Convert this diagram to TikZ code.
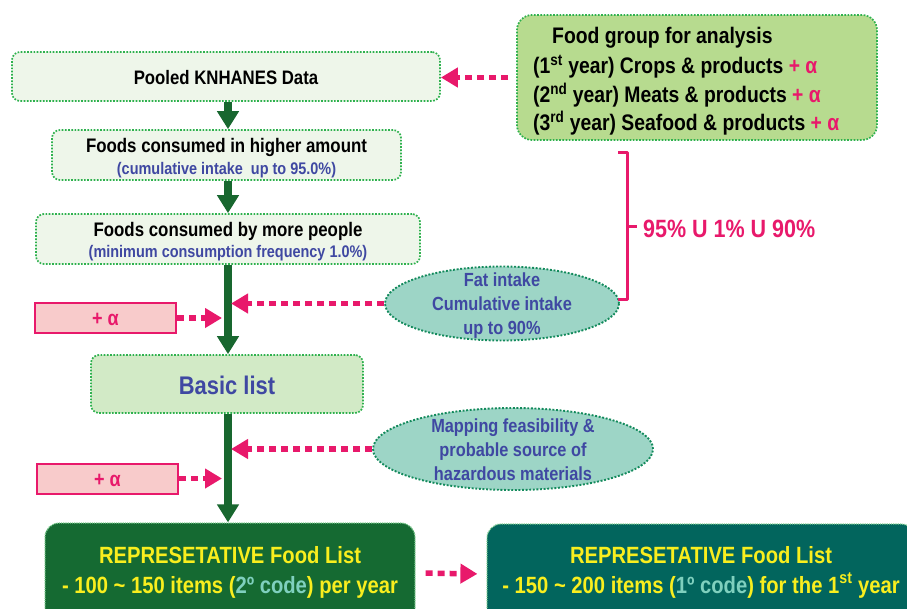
\documentclass[tikz,border=0pt]{standalone}
\usepackage{fontspec}
\setmainfont{Liberation Sans}[FakeStretch=0.86]
\usetikzlibrary{arrows.meta,shapes.geometric}

\definecolor{flowgreen}{HTML}{18672F}
\definecolor{dotgreen}{HTML}{2EB14E}
\definecolor{palebox}{HTML}{EEF6EA}
\definecolor{basicfill}{HTML}{D2EAC6}
\definecolor{groupfill}{HTML}{B7DB8F}
\definecolor{ovalfill}{HTML}{9DD5C6}
\definecolor{ovalline}{HTML}{138A5C}
\definecolor{hotpink}{HTML}{E8196B}
\definecolor{pinkfill}{HTML}{F8CBCB}
\definecolor{inkblue}{HTML}{3F48A2}
\definecolor{listgreen}{HTML}{156A32}
\definecolor{listteal}{HTML}{02655D}
\definecolor{listyellow}{HTML}{F9EE1E}
\definecolor{codeteal}{HTML}{7FD0BE}

\newcommand\setfs[1]{\fontsize{#1}{#1}\selectfont}

\begin{document}
\begin{tikzpicture}[x=1pt,y=-1pt,
  dotline/.style={draw=dotgreen, line width=1.7pt, dash pattern=on 1.7pt off 1.5pt},
  lbox/.style={dotline, fill=palebox, rounded corners=8pt, inner sep=0pt},
  txt/.style={inner sep=0pt, anchor=base},
  oval/.style={ellipse, draw=ovalline, line width=1.9pt, dash pattern=on 1.9pt off 1.7pt, fill=ovalfill, inner sep=0pt},
  flow/.style={draw=flowgreen, line width=7.5pt, -{Triangle[length=18pt,width=21pt]}},
  feed/.style={draw=hotpink, line width=5.5pt, dash pattern=on 7pt off 5pt, -{Triangle[length=17pt,width=19pt]}},
  plusbox/.style={draw=hotpink, line width=2pt, fill=pinkfill, minimum width=141pt, minimum height=30pt,
    inner sep=0pt, text height=15pt, text depth=0pt, text=hotpink, font=\bfseries\setfs{21}},
  listbox/.style={draw=dotgreen!60, line width=1.2pt, dash pattern=on 1.2pt off 1pt, rounded corners=14pt, inner sep=0pt},
]
\useasboundingbox (0,0) rectangle (907,608);
\clip (0,0) rectangle (907,608);

% spine of the flow and the points where side inputs meet it
\coordinate (spine) at (228,0);
\coordinate (tipL) at (222,0);
\coordinate (tipR) at (231,0);

% left column
\node[lbox, minimum width=428pt, minimum height=49pt] (pool) at (226,76.5) {};
\node[txt, font=\bfseries\setfs{19.5}] (poolt) at (226,84) {Pooled KNHANES Data};

\node[lbox, minimum width=349pt, minimum height=50pt] (fc1) at (226.5,155) {};
\node[txt, font=\bfseries\setfs{19.6}] (fc1a) at (226.5,152.5) {Foods consumed in higher amount};
\node[txt, font=\bfseries\setfs{16.8}, text=inkblue] (fc1b) at (226.5,174) {(cumulative intake\ \ up to 95.0\%)};

\node[lbox, minimum width=384pt, minimum height=50pt] (fc2) at (228,239) {};
\node[txt, font=\bfseries\setfs{19.6}] (fc2a) at (228,236.5) {Foods consumed by more people};
\node[txt, font=\bfseries\setfs{16.8}, text=inkblue] (fc2b) at (228,257.5) {(minimum consumption frequency 1.0\%)};

\node[lbox, fill=basicfill, minimum width=272pt, minimum height=58pt] (basic) at (227,384) {};
\node[txt, font=\bfseries\setfs{25.5}, text=inkblue] (basict) at (227,394.5) {Basic list};

\node[plusbox] (pa1) at (105.5,318) {+ α};
\node[plusbox] (pa2) at (107.5,478.5) {+ α};

% food groups
\node[lbox, fill=groupfill, rounded corners=15pt, minimum width=360pt, minimum height=125pt] (fg) at (697,77.5) {};
\node[txt, anchor=base west, font=\bfseries\setfs{22.5}] (fg0) at (552,43.5) {Food group for analysis};
\node[txt, anchor=base west, font=\bfseries\setfs{22.5}] (fg1) at (533,73.5) {(1\textsuperscript{st} year) Crops \& products \textcolor{hotpink}{+ α}};
\node[txt, anchor=base west, font=\bfseries\setfs{22.5}] (fg2) at (533,102) {(2\textsuperscript{nd} year) Meats \& products \textcolor{hotpink}{+ α}};
\node[txt, anchor=base west, font=\bfseries\setfs{22.5}] (fg3) at (533,130.5) {(3\textsuperscript{rd} year) Seafood \& products \textcolor{hotpink}{+ α}};

% side criteria
\node[oval, minimum width=234pt, minimum height=74pt] (fat) at (502,303.5) {};
\node[align=center, inner sep=0pt, font=\bfseries\fontsize{19}{24}\selectfont, text=inkblue] (fatt) at (502,305.5)
  {Fat intake\\Cumulative intake\\up to 90\%};

\node[oval, minimum width=280pt, minimum height=82pt] (map) at (513,449) {};
\node[align=center, inner sep=0pt, font=\bfseries\fontsize{19}{24}\selectfont, text=inkblue] (mapt) at (513,450)
  {Mapping feasibility \&\\probable source of\\hazardous materials};

% union bracket
\draw[hotpink, line width=3pt, line join=round] (618,152) -- (627,152) -- (627,299) -- (618,299);
\draw[hotpink, line width=3pt] (627,226) -- (637,226);
\node[txt, anchor=base west, font=\bfseries\setfs{25}, text=hotpink] (union) at (643,237) {95\% U 1\% U 90\%};

% final lists
\node[listbox, fill=listgreen, minimum width=370pt, minimum height=100pt] (rep2) at (230,573) {};
\node[txt, font=\bfseries\setfs{23.5}, text=listyellow] (rep2a) at (230,563) {REPRESETATIVE Food List};
\node[txt, font=\bfseries\setfs{23.5}, text=listyellow] (rep2b) at (230,593)
  {- 100 \textasciitilde{} 150 items (\textcolor{codeteal}{2º code}) per year};

\node[listbox, fill=listteal, minimum width=428pt, minimum height=100pt] (rep1) at (701,574) {};
\node[txt, font=\bfseries\setfs{23.5}, text=listyellow] (rep1a) at (701,563) {REPRESETATIVE Food List};
\node[txt, font=\bfseries\setfs{23.5}, text=listyellow] (rep1b) at (701,593)
  {- 150 \textasciitilde{} 200 items (\textcolor{codeteal}{1º code}) for the 1\textsuperscript{st} year};

% main flow
\draw[flow] (spine |- pool.south) -- (spine |- fc1.north);
\draw[flow] (spine |- fc1.south) -- (spine |- fc2.north);
\draw[flow] (spine |- fc2.south) -- (spine |- basic.north);
\draw[flow] (spine |- basic.south) -- (spine |- rep2.north);

% side inputs
\draw[feed] ([xshift=-8pt]fg.west) -- (pool.east |- fg.west);
\draw[feed] (fat.west) -- (tipR |- fat.west);
\draw[feed] (pa1.east) -- (tipL |- pa1.east);
\draw[feed] (map.west) -- (tipR |- map.west);
\draw[feed] (pa2.east) -- (tipL |- pa2.east);
\draw[feed, shorten <=10pt, shorten >=9pt] (rep2.east) -- (rep1.west);
\end{tikzpicture}
\end{document}
